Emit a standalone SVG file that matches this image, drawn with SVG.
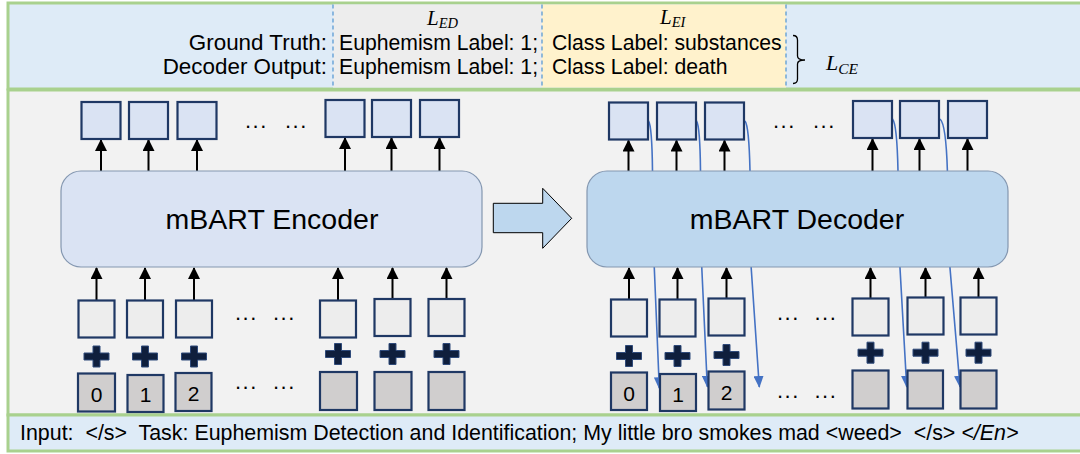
<svg xmlns="http://www.w3.org/2000/svg" xmlns:xlink="http://www.w3.org/1999/xlink" width="1080" height="454" viewBox="0 0 1080 454">
<style>
.panel{stroke:#a9d18e;stroke-width:3}
.lbl{font-family:"Liberation Sans",Arial,sans-serif;font-size:21.2px;fill:#000}
.lbl2{font-family:"Liberation Sans",Arial,sans-serif;font-size:22.4px;fill:#000;text-anchor:end}
.inptxt{font-family:"Liberation Sans",Arial,sans-serif;font-size:21.4px;fill:#000}
.big{font-family:"Liberation Sans",Arial,sans-serif;font-size:28.5px;fill:#000;text-anchor:middle}
.math{font-family:"Liberation Serif","DejaVu Serif",serif;font-style:italic;fill:#000}
.dots{font-family:"Liberation Sans",Arial,sans-serif;font-size:22px;letter-spacing:1.5px;fill:#000}
.out{fill:#dae3f3;stroke:#1f3864;stroke-width:2.2}
.inp{fill:#ededed;stroke:#1f3864;stroke-width:2.2}
.pos{fill:#d0cece;stroke:#1f3864;stroke-width:2.2}
.num{font-family:"Liberation Sans",Arial,sans-serif;font-size:21px;fill:#000;text-anchor:middle}
.up{stroke:#000;stroke-width:2;fill:none;marker-end:url(#ah)}
.fb{stroke:#4472c4;stroke-width:1.6;fill:none;marker-end:url(#bh)}
.dash{stroke:#5b9bd5;stroke-width:1.3;stroke-dasharray:4 3}
</style>
<defs>
<marker id="ah" viewBox="0 0 12 12" refX="11" refY="6" markerWidth="12" markerHeight="12" markerUnits="userSpaceOnUse" orient="auto"><path d="M0,0 L12,6 L0,12 z" fill="#000"/></marker>
<marker id="bh" viewBox="0 0 12 10" refX="11" refY="5" markerWidth="12" markerHeight="10" markerUnits="userSpaceOnUse" orient="auto"><path d="M0,0 L12,5 L0,10 z" fill="#4472c4"/></marker>
<path id="plus" d="M-12.5,-3.5 H-3.5 V-10.5 H3.5 V-3.5 H12.5 V3.5 H3.5 V10.5 H-3.5 V3.5 H-12.5 Z" fill="#0f1f3d" stroke="#2f4a7a" stroke-width="1"/>
</defs>

<!-- panels -->
<g id="top-panel">
<rect class="panel" x="8" y="3" width="1090" height="86" fill="#deebf7"/>
<rect x="333" y="4.5" width="209" height="83" fill="#ededed"/>
<rect x="542" y="4.5" width="244" height="83" fill="#fff2cc"/>
<line class="dash" x1="333" y1="4.5" x2="333" y2="87.5"/>
<line class="dash" x1="542" y1="4.5" x2="542" y2="87.5"/>
<line class="dash" x1="786" y1="4.5" x2="786" y2="87.5"/>
<text class="math" x="427" y="24.5" font-size="21">L<tspan font-size="14.5" dy="3">ED</tspan></text>
<text class="math" x="660" y="23.5" font-size="21">L<tspan font-size="14.5" dy="3">EI</tspan></text>
<text class="lbl2" x="327" y="50">Ground Truth:</text>
<text class="lbl2" x="327" y="74">Decoder Output:</text>
<text class="lbl" x="339" y="50">Euphemism Label: 1;</text>
<text class="lbl" x="339" y="74">Euphemism Label: 1;</text>
<text class="lbl" x="552" y="50">Class Label: substances</text>
<text class="lbl" x="552" y="74">Class Label: death</text>
<path d="M793,35.5 Q797.5,35.5 797.5,40 V56 Q797.5,60 805,60 Q797.5,60 797.5,64 V79 Q797.5,83.5 793,83.5" fill="none" stroke="#000" stroke-width="1.3"/>
<text class="math" x="826" y="70" font-size="22">L<tspan font-size="15.5" dy="4">CE</tspan></text>
</g>

<g id="main-panel">
<rect class="panel" x="8" y="90" width="1090" height="325" fill="#f2f2f2"/>
</g>

<g id="input-panel">
<rect class="panel" x="8" y="415" width="1090" height="36" fill="#deebf7"/>
<text class="inptxt" x="20" y="439.5" xml:space="preserve">Input:  &lt;/s&gt;  Task: Euphemism Detection and Identification; My little bro smokes mad &lt;weed&gt;  &lt;/s&gt; <tspan font-style="italic">&lt;/En&gt;</tspan></text>
</g>

<!-- connectors -->
<g id="connectors">
<!-- encoder outputs -->
<line class="up" x1="101" y1="171" x2="101" y2="140"/>
<line class="up" x1="148.5" y1="171" x2="148.5" y2="140"/>
<line class="up" x1="197" y1="171" x2="197" y2="140"/>
<line class="up" x1="345" y1="171" x2="345" y2="138"/>
<line class="up" x1="391.5" y1="171" x2="391.5" y2="138"/>
<line class="up" x1="439.5" y1="171" x2="439.5" y2="138"/>
<!-- encoder inputs -->
<line class="up" x1="96.5" y1="300" x2="96.5" y2="268"/>
<line class="up" x1="145" y1="300" x2="145" y2="268"/>
<line class="up" x1="194" y1="300" x2="194" y2="268"/>
<line class="up" x1="338" y1="300" x2="338" y2="268"/>
<line class="up" x1="392.5" y1="298.5" x2="392.5" y2="268"/>
<line class="up" x1="446.5" y1="298.5" x2="446.5" y2="268"/>
<!-- decoder outputs -->
<line class="up" x1="628.5" y1="171" x2="628.5" y2="140.5"/>
<line class="up" x1="676.5" y1="171" x2="676.5" y2="140.5"/>
<line class="up" x1="724.5" y1="171" x2="724.5" y2="140.5"/>
<line class="up" x1="872.5" y1="171" x2="872.5" y2="139"/>
<line class="up" x1="919.5" y1="171" x2="919.5" y2="139"/>
<line class="up" x1="967.5" y1="171" x2="967.5" y2="139"/>
<!-- decoder inputs -->
<line class="up" x1="629" y1="299" x2="629" y2="268"/>
<line class="up" x1="677.5" y1="299" x2="677.5" y2="268"/>
<line class="up" x1="726.5" y1="298" x2="726.5" y2="268"/>
<line class="up" x1="870.5" y1="298" x2="870.5" y2="268"/>
<line class="up" x1="925.5" y1="297" x2="925.5" y2="268"/>
<line class="up" x1="978.5" y1="297" x2="978.5" y2="268"/>
<!-- autoregressive feedback -->
<path class="fb" d="M648.5,121 Q652,126 652.5,171 L654.3,268 L659.3,388.3"/>
<path class="fb" d="M696.5,121 Q700,126 700.5,171 L701.8,268 L707.3,386.7"/>
<path class="fb" d="M745,121 Q749,126 750,171 L751.2,268 L759.3,387"/>
<path class="fb" d="M892.5,119 Q897,124 898,171 L900,268 L906.7,386.7"/>
<path class="fb" d="M940,119 Q946,124 947.4,171 L950,268 L960,386.7"/>
<!-- encoder to decoder -->
<polygon points="493.3,203.3 542.7,203.3 542.7,188.3 571.7,218.3 542.7,248.3 542.7,232.7 493.3,232.7" fill="#bdd7ee" stroke="#000" stroke-width="1"/>
</g>

<g id="encoder">
<rect x="61" y="171" width="421" height="96" rx="20" fill="#dae3f3" stroke="#8497b0" stroke-width="1.2"/>
<text class="big" x="272" y="229">mBART Encoder</text>
</g>
<g id="decoder">
<rect x="587" y="171" width="421" height="96" rx="20" fill="#bdd7ee" stroke="#8497b0" stroke-width="1.2"/>
<text class="big" x="797" y="229">mBART Decoder</text>
</g>

<g id="encoder-outputs">
<rect class="out" x="81.5" y="102" width="39" height="37"/>
<rect class="out" x="129" y="102" width="39" height="37"/>
<rect class="out" x="177.5" y="102" width="39" height="37"/>
<text class="dots" x="245" y="128">...</text>
<text class="dots" x="285" y="128">...</text>
<rect class="out" x="325.5" y="100" width="39" height="37"/>
<rect class="out" x="372" y="100" width="39" height="37"/>
<rect class="out" x="420" y="100" width="39" height="37"/>
</g>

<g id="encoder-inputs">
<rect class="inp" x="78.5" y="300.5" width="36" height="37"/>
<rect class="inp" x="127" y="300.5" width="36" height="37"/>
<rect class="inp" x="176" y="300.5" width="36" height="37"/>
<rect class="inp" x="320" y="300.5" width="36" height="37"/>
<rect class="inp" x="374.5" y="299" width="36" height="37"/>
<rect class="inp" x="428.5" y="299" width="36" height="37"/>
<text class="dots" x="235" y="320">...</text>
<text class="dots" x="273" y="320">...</text>
<use xlink:href="#plus" x="96.5" y="356.5"/>
<use xlink:href="#plus" x="145" y="356.5"/>
<use xlink:href="#plus" x="194" y="356.5"/>
<use xlink:href="#plus" x="338" y="354"/>
<use xlink:href="#plus" x="392.5" y="354"/>
<use xlink:href="#plus" x="446.5" y="354"/>
</g>

<g id="encoder-positions">
<rect class="pos" x="78" y="373.5" width="37" height="38"/>
<text class="num" x="96.5" y="401.5">0</text>
<rect class="pos" x="127.5" y="375" width="36" height="37"/>
<text class="num" x="145.5" y="402">1</text>
<rect class="pos" x="175.5" y="373" width="36" height="38"/>
<text class="num" x="193.5" y="401">2</text>
<text class="dots" x="235" y="389">...</text>
<text class="dots" x="273" y="389">...</text>
<rect class="pos" x="320" y="372" width="37" height="38"/>
<rect class="pos" x="374.5" y="372" width="37" height="38"/>
<rect class="pos" x="428.5" y="372" width="36" height="38"/>
</g>

<g id="decoder-outputs">
<rect class="out" x="609" y="102.5" width="39" height="37"/>
<rect class="out" x="657" y="102.5" width="39" height="37"/>
<rect class="out" x="705" y="102.5" width="39" height="37"/>
<text class="dots" x="773" y="128">...</text>
<text class="dots" x="813" y="128">...</text>
<rect class="out" x="853" y="101" width="39" height="37"/>
<rect class="out" x="900" y="101" width="39" height="37"/>
<rect class="out" x="948" y="101" width="39" height="37"/>
</g>

<g id="decoder-inputs">
<rect class="inp" x="611" y="299.5" width="36" height="37"/>
<rect class="inp" x="659.5" y="299.5" width="36" height="37"/>
<rect class="inp" x="708.5" y="298.5" width="36" height="37"/>
<rect class="inp" x="852.5" y="298.5" width="36" height="37"/>
<rect class="inp" x="907.5" y="297.5" width="36" height="37"/>
<rect class="inp" x="960.5" y="297.5" width="36" height="37"/>
<text class="dots" x="777" y="320">...</text>
<text class="dots" x="814.5" y="320">...</text>
<use xlink:href="#plus" x="629" y="356"/>
<use xlink:href="#plus" x="677.5" y="356"/>
<use xlink:href="#plus" x="726.5" y="355"/>
<use xlink:href="#plus" x="870.5" y="352.7"/>
<use xlink:href="#plus" x="925.5" y="352.7"/>
<use xlink:href="#plus" x="978.5" y="352.7"/>
</g>

<g id="decoder-positions">
<rect class="pos" x="611" y="372.5" width="36" height="37.5"/>
<text class="num" x="629" y="401">0</text>
<rect class="pos" x="660" y="374" width="36" height="37"/>
<text class="num" x="678" y="402">1</text>
<rect class="pos" x="708.5" y="371.5" width="36" height="38"/>
<text class="num" x="726.5" y="400">2</text>
<text class="dots" x="777" y="398">...</text>
<text class="dots" x="814.5" y="398">...</text>
<rect class="pos" x="852.5" y="370.5" width="36" height="38"/>
<rect class="pos" x="907.5" y="370.5" width="35.5" height="38"/>
<rect class="pos" x="960.5" y="370.5" width="36" height="38"/>
</g>
</svg>
